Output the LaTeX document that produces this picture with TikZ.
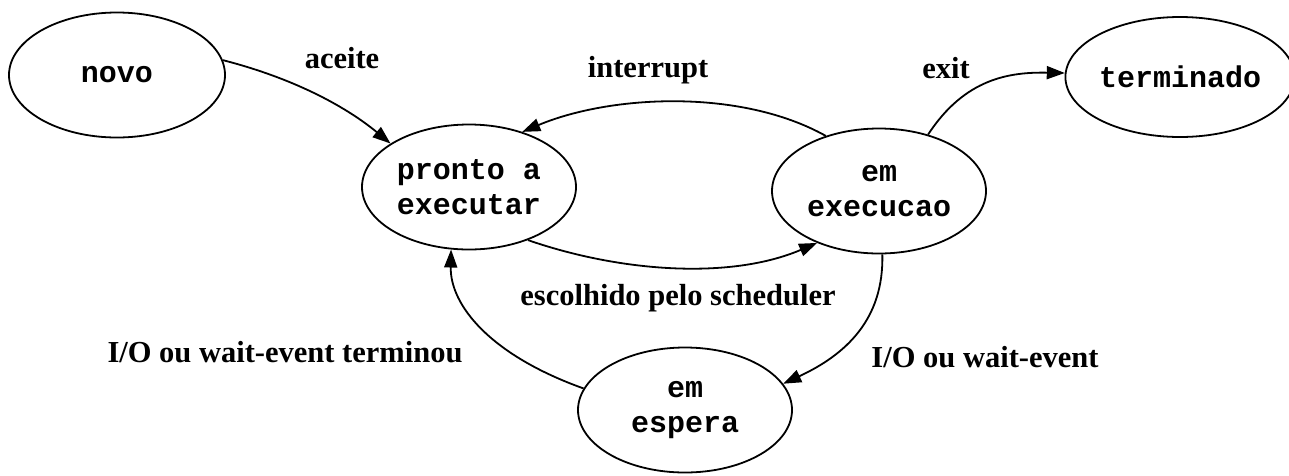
\documentclass[tikz,border=0pt]{standalone}
\usepackage{fontspec}
\setmainfont{Liberation Serif}
\newfontfamily\statefont{Liberation Mono}
\usetikzlibrary{shapes.geometric,arrows.meta}
\begin{document}
\begin{tikzpicture}[x=1pt,y=-1pt,
  state/.style={draw,line width=1.8pt,ellipse,minimum width=214pt,minimum height=125pt,inner sep=0pt,
    font=\statefont\bfseries\fontsize{30}{35}\selectfont,align=center},
  arr/.style={line width=1.8pt,-{Triangle[length=18pt,width=13pt]}},
  lbl/.style={font=\bfseries\fontsize{30.5}{34}\selectfont,inner sep=0pt}]
\useasboundingbox (0,0) rectangle (1289,475);
\node[state,minimum width=216pt] (novo) at (117,75) {novo};
\node[state] (pronto) at (469,187) {pronto a\\executar};
\node[state] (exec) at (879,191) {em\\execucao};
\node[state,minimum height=120pt] (term) at (1180,77) {terminado};
\node[state] (esp) at (685,410) {em\\espera};

\draw[arr] (novo.8) .. controls (300,80) and (350,110) .. (pronto.151);
\draw[arr] (exec.134) .. controls (740,88) and (610,95) .. (pronto.46);
\draw[arr] (exec.49) .. controls (965,78) and (1010,72) .. (term.178);
\draw[arr] (pronto.-42) .. controls (620,272) and (730,280) .. (exec.220);
\draw[arr] (exec.-87) .. controls (884,320) and (845,355) .. (esp.15);
\draw[arr] (esp.168) .. controls (490,355) and (450,305) .. (pronto.-106);

\node[lbl] (l1) at (342,58) {aceite};
\node[lbl] (l2) at (648,70) {interrupt};
\node[lbl] (l3) at (946,68) {exit};
\node[lbl] (l4) at (678,298) {escolhido pelo scheduler};
\node[lbl] (l5) at (285,352) {I/O ou wait-event terminou};
\node[lbl] (l6) at (985,357) {I/O ou wait-event};
\end{tikzpicture}
\end{document}
